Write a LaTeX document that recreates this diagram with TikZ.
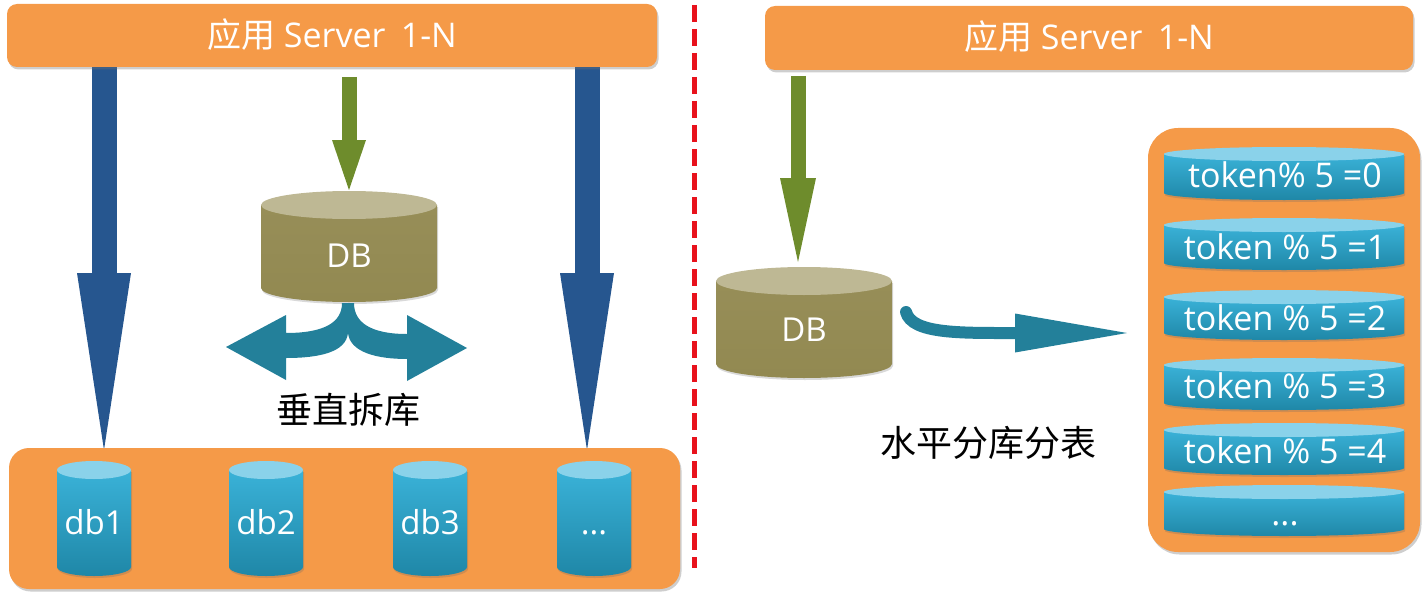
\documentclass[tikz,border=0pt]{standalone}
\usepackage{fontspec}
\setmainfont{Open Sans}
\newfontfamily\cjk{Noto Sans CJK SC}
\usetikzlibrary{arrows.meta,shadows}
\definecolor{orangebox}{HTML}{F59A48}
\definecolor{bluearrow}{HTML}{26568F}
\definecolor{greenarrow}{HTML}{6E8C2C}
\definecolor{tealarrow}{HTML}{23809A}
\definecolor{dbtop}{HTML}{BEB894}
\definecolor{dbbodyA}{HTML}{978E58}
\definecolor{dbbodyB}{HTML}{928951}
\definecolor{cyltop}{HTML}{8AD2EA}
\definecolor{cylA}{HTML}{3AB2D8}
\definecolor{cylB}{HTML}{1F87A7}
\definecolor{reddash}{HTML}{E8121C}
\newcommand{\cylshape}[8]{%
  \path[top color=#7,bottom color=#8,cylshadow] (#1-#4,#2) -- (#1-#4,#3)
    .. controls (#1-#4,#3+0.5523*#5) and (#1-0.5523*#4,#3+#5) .. (#1,#3+#5)
    .. controls (#1+0.5523*#4,#3+#5) and (#1+#4,#3+0.5523*#5) .. (#1+#4,#3)
    -- (#1+#4,#2) -- cycle;
  \path[fill=#6] (#1,#2) ellipse [x radius=#4pt, y radius=#5pt];
}
\begin{document}
\begin{tikzpicture}[x=1pt,y=-1pt,
  boxshadow/.style={drop shadow={shadow xshift=1.5pt,shadow yshift=-2.5pt,opacity=0.35,fill=black!55}},
  cylshadow/.style={drop shadow={shadow xshift=1pt,shadow yshift=-2pt,opacity=0.25,fill=black!60}},
  barbox/.style={fill=orangebox,rounded corners=10pt,boxshadow},
  bartext/.style={text=white,font=\fontsize{34}{40}\selectfont,anchor=base,inner sep=0pt},
  cyltext/.style={text=white,font=\fontsize{33}{40}\selectfont,anchor=base,inner sep=0pt},
  toktext/.style={text=white,font=\fontsize{34}{40}\selectfont,anchor=base,inner sep=0pt},
  captext/.style={text=black,font=\cjk\fontsize{36}{42}\selectfont,inner sep=0pt},
  bluearr/.style={draw=bluearrow,line width=25pt,-{Triangle[width=54pt,length=177pt,line width=0pt]}},
  greenarr/.style={draw=greenarrow,line width=15pt}]
\useasboundingbox (0,0) rectangle (1426,599);
% blue arrows (behind the bar)
\coordinate (b1s) at (104,62); \coordinate (b1e) at (104,450);
\coordinate (b2s) at (587,62); \coordinate (b2e) at (587,450);
\draw[bluearr] (b1s) -- (b1e);
\draw[bluearr] (b2s) -- (b2e);
% top bars
\path[barbox] (7,4) rectangle (657,67);
\path[barbox] (765,6) rectangle (1413,70);
\node[bartext] (lbar) at (332,48) {{\cjk 应用} Server\hspace{0.45em}1-N};
\node[bartext] (rbar) at (1089,50) {{\cjk 应用} Server\hspace{0.45em}1-N};
% red dashed divider
\coordinate (rd1) at (694,5); \coordinate (rd2) at (694,568);
\draw[reddash,line width=5pt,dash pattern=on 17pt off 7pt] (rd1) -- (rd2);
% green arrows
\coordinate (g1s) at (349,77); \coordinate (g1e) at (349,190);
\draw[greenarr,-{Triangle[width=34pt,length=50pt,line width=0pt]}] (g1s) -- (g1e);
\coordinate (g2s) at (798,76); \coordinate (g2e) at (798,262);
\draw[greenarr,-{Triangle[width=36pt,length=84pt,line width=0pt]}] (g2s) -- (g2e);
% left DB
\cylshape{349}{205}{288}{88}{14}{dbtop}{dbbodyA}{dbbodyB}
\node[cyltext] (dbl) at (349,267) {DB};
% split arrow
\fill[tealarrow] (342,303) .. controls (342,322) and (325,333) .. (286,333)
  -- (286,315) -- (226,347) -- (286,380) -- (286,358)
  .. controls (320,358) and (346,352) .. (348,333)
  .. controls (350,352) and (376,359) .. (407,359)
  -- (407,381) -- (467,348) -- (407,315) -- (407,334)
  .. controls (370,334) and (354,322) .. (354,303) -- cycle;
\node[captext] (vcap) at (348,410) {垂直拆库};
% bottom-left container
\path[fill=orangebox,rounded corners=20pt,boxshadow] (9,448) rectangle (680,589);
\cylshape{94}{470}{567}{37}{9}{cyltop}{cylA}{cylB}
\cylshape{266}{470}{567}{37}{9}{cyltop}{cylA}{cylB}
\cylshape{430}{470}{567}{37}{9}{cyltop}{cylA}{cylB}
\cylshape{594}{470}{567}{37}{9}{cyltop}{cylA}{cylB}
\node[cyltext] (db1) at (94,534) {db1};
\node[cyltext] (db2) at (266,534) {db2};
\node[cyltext] (db3) at (430,534) {db3};
\node[cyltext] (db4) at (594,534) {...};
% right DB
\cylshape{804}{281}{364}{88}{14}{dbtop}{dbbodyA}{dbbodyB}
\node[cyltext] (dbr) at (804,341) {DB};
% curved arrow
\coordinate (hs) at (906,312); \coordinate (he) at (1127,333);
\draw[tealarrow,line width=12pt,line cap=round,-{Triangle[width=39pt,length=112pt,line width=0pt]}]
  (hs) .. controls (912,334) and (960,333) .. (he);
\node[captext] (hcap) at (988,443) {水平分库分表};
% right container
\path[fill=orangebox,rounded corners=30pt,boxshadow] (1148,128) rectangle (1420,552);
\cylshape{1284}{154}{193}{120}{7}{cyltop}{cylA}{cylB}
\cylshape{1284}{225}{263}{120}{7}{cyltop}{cylA}{cylB}
\cylshape{1284}{297}{333}{120}{7}{cyltop}{cylA}{cylB}
\cylshape{1284}{365}{403}{120}{7}{cyltop}{cylA}{cylB}
\cylshape{1284}{430}{468}{120}{7}{cyltop}{cylA}{cylB}
\cylshape{1284}{492}{529}{120}{7}{cyltop}{cylA}{cylB}
\node[toktext] (tk0) at (1285,187) {token\% 5 =0};
\node[toktext] (tk1) at (1285,259) {token \% 5 =1};
\node[toktext] (tk2) at (1285,330) {token \% 5 =2};
\node[toktext] (tk3) at (1285,398) {token \% 5 =3};
\node[toktext] (tk4) at (1285,463) {token \% 5 =4};
\node[toktext] (tk5) at (1285,525) {...};
\end{tikzpicture}
\end{document}
